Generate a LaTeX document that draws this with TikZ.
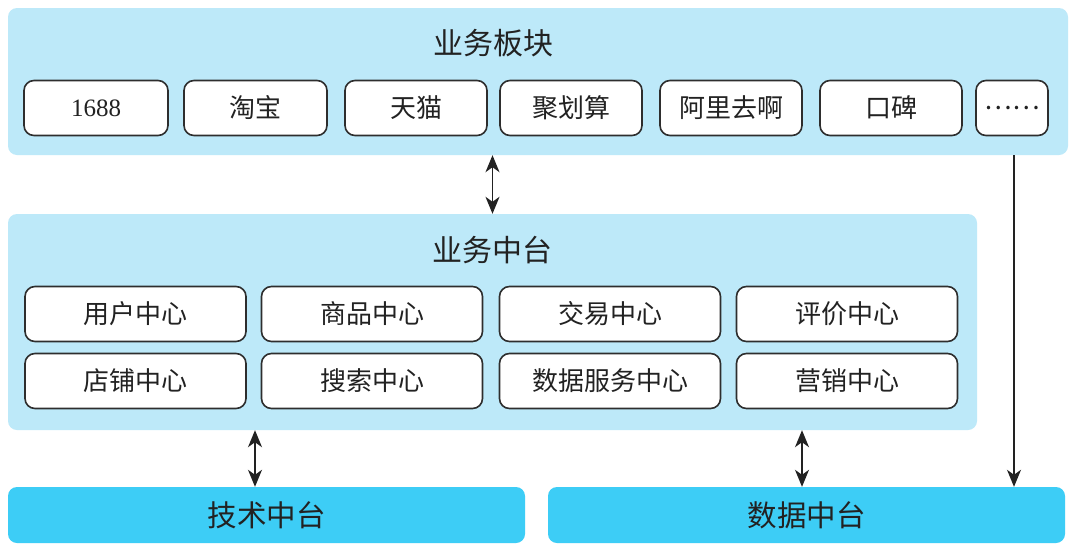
\documentclass[tikz,border=0pt]{standalone}
\usepackage{fontspec}
\setmainfont{Liberation Serif}
\newfontfamily\cjk{Noto Sans CJK SC}
\usetikzlibrary{arrows.meta}
\definecolor{panelblue}{HTML}{BDE9F9}
\definecolor{darkblue}{HTML}{3DCDF6}
\definecolor{edgegray}{HTML}{2E2E2E}
\definecolor{inkgray}{HTML}{222222}
\begin{document}
\begin{tikzpicture}[x=1pt,y=-1pt,
  panelbox/.style={fill=panelblue,draw=none,rounded corners=9pt,inner sep=0pt},
  titletext/.style={font=\cjk\fontsize{30}{30}\selectfont,text=inkgray,inner sep=0pt},
  itembox/.style={draw=edgegray,line width=1.6pt,fill=white,rounded corners=10pt,
    minimum height=55pt,inner sep=0pt,font=\cjk\fontsize{26}{26}\selectfont,text=inkgray},
  numtext/.style={font=\fontsize{25}{25}\selectfont},
  basebox/.style={fill=darkblue,draw=none,rounded corners=9pt,minimum height=56pt,
    minimum width=517pt,inner sep=0pt,font=\cjk\fontsize{29.5}{29.5}\selectfont,text=inkgray},
  conn/.style={draw=inkgray,line width=1.5pt},
  twoway/.style={conn,{Stealth[length=17pt,width=14pt,inset=5pt]}-{Stealth[length=17pt,width=14pt,inset=5pt]}},
  oneway/.style={conn,-{Stealth[length=17pt,width=14pt,inset=5pt]}}
]
\useasboundingbox (0,0) rectangle (1080,555);
\fill[white] (0,0) rectangle (1080,555);

% top panel
\node[panelbox,minimum width=1060pt,minimum height=147pt] (top) at (538,81.5) {};
\node[titletext] (toptitle) at (493,43) {业务板块};
\node[itembox,minimum width=144pt,numtext] (b1) at (96,108) {1688};
\node[itembox,minimum width=143pt] (b2) at (255.5,108) {淘宝};
\node[itembox,minimum width=142pt] (b3) at (416,108) {天猫};
\node[itembox,minimum width=142pt] (b4) at (571,108) {聚划算};
\node[itembox,minimum width=142pt] (b5) at (731,108) {阿里去啊};
\node[itembox,minimum width=142pt] (b6) at (891,108) {口碑};
\node[itembox,minimum width=72pt] (b7) at (1012,108) {……};

% middle panel
\node[panelbox,minimum width=969pt,minimum height=216pt] (mid) at (492.5,322) {};
\node[titletext] (midtitle) at (492,250) {业务中台};
\node[itembox,minimum width=221pt] (m1) at (135.5,314) {用户中心};
\node[itembox,minimum width=221pt] (m2) at (372,314) {商品中心};
\node[itembox,minimum width=221pt] (m3) at (610,314) {交易中心};
\node[itembox,minimum width=221pt] (m4) at (847,314) {评价中心};
\node[itembox,minimum width=221pt] (m5) at (135.5,381) {店铺中心};
\node[itembox,minimum width=221pt] (m6) at (372,381) {搜索中心};
\node[itembox,minimum width=221pt] (m7) at (610,381) {数据服务中心};
\node[itembox,minimum width=221pt] (m8) at (847,381) {营销中心};

% bottom
\node[basebox] (tech) at (266.5,515) {技术中台};
\node[basebox] (data) at (806.5,515) {数据中台};

% connectors
\draw[twoway] (mid.north |- top.south) -- (mid.north);
\coordinate (techtop) at ([xshift=-11.5pt]tech.north);
\coordinate (datatop) at ([xshift=-4.5pt]data.north);
\draw[twoway] (techtop |- mid.south) -- (techtop);
\draw[twoway] (datatop |- mid.south) -- (datatop);
\coordinate (sidetop) at ([xshift=2pt]b7.south |- top.south);
\draw[oneway] (sidetop) -- (sidetop |- data.north);
\end{tikzpicture}
\end{document}
